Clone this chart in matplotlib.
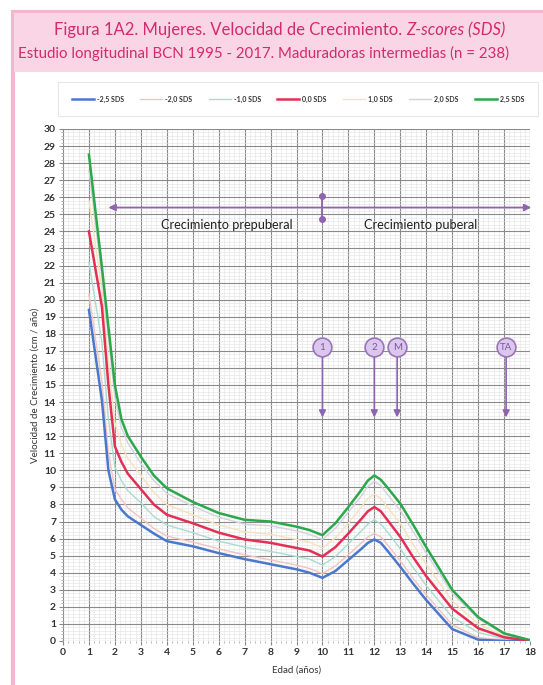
import matplotlib.pyplot as plt
from matplotlib.patches import Rectangle
from matplotlib.ticker import MultipleLocator

plt.rcParams['font.family'] = ['Lato', 'DejaVu Sans']

# edad (años) y velocidad (cm/año) por curva SDS
edad = [1, 1.5, 1.75, 2, 2.25, 2.5, 3, 3.5, 4, 5, 6, 7, 8, 9, 9.5, 10,
        10.5, 11, 11.5, 11.75, 12, 12.25, 12.5, 13, 13.5, 14, 15, 16, 17, 18]
sds_m25 = [19.4, 14.1, 10.0, 8.3, 7.7, 7.3, 6.8, 6.3, 5.85, 5.55, 5.15, 4.8, 4.5, 4.2, 4.0, 3.7,
           4.1, 4.75, 5.4, 5.75, 5.95, 5.75, 5.3, 4.35, 3.35, 2.4, 0.7, 0.08, 0.0, 0.0]
sds_m20 = [20.3, 15.2, 11.0, 8.9, 8.3, 7.8, 7.2, 6.6, 6.15, 5.8, 5.4, 5.05, 4.75, 4.45, 4.25, 3.95,
           4.4, 5.05, 5.75, 6.1, 6.3, 6.1, 5.65, 4.7, 3.65, 2.7, 0.95, 0.2, 0.05, 0.0]
sds_m10 = [22.2, 17.5, 13.0, 10.2, 9.4, 8.8, 8.1, 7.3, 6.8, 6.35, 5.85, 5.5, 5.25, 4.95, 4.8, 4.45,
           4.95, 5.7, 6.45, 6.85, 7.1, 6.85, 6.4, 5.4, 4.3, 3.25, 1.4, 0.5, 0.13, 0.0]
sds_0 = [24.0, 19.6, 15.0, 11.4, 10.5, 9.8, 8.9, 8.0, 7.4, 6.9, 6.35, 5.95, 5.75, 5.45, 5.3, 4.95,
         5.5, 6.3, 7.15, 7.6, 7.85, 7.6, 7.1, 6.1, 4.9, 3.8, 1.9, 0.75, 0.22, 0.0]
sds_p10 = [25.8, 20.6, 16.4, 12.8, 11.5, 10.7, 9.7, 8.7, 8.0, 7.4, 6.8, 6.4, 6.25, 5.95, 5.8, 5.45,
           6.05, 6.9, 7.85, 8.35, 8.6, 8.35, 7.85, 6.9, 5.65, 4.5, 2.35, 1.0, 0.3, 0.02]
sds_p20 = [27.6, 21.3, 17.8, 14.3, 12.5, 11.6, 10.4, 9.4, 8.65, 7.9, 7.25, 6.85, 6.75, 6.45, 6.25, 5.95,
           6.6, 7.55, 8.5, 9.05, 9.35, 9.1, 8.6, 7.65, 6.4, 5.15, 2.8, 1.3, 0.4, 0.04]
sds_p25 = [28.5, 21.9, 18.4, 15.0, 13.0, 12.0, 10.8, 9.7, 8.95, 8.15, 7.5, 7.1, 7.0, 6.7, 6.5, 6.2,
           6.9, 7.85, 8.85, 9.4, 9.7, 9.45, 9.0, 8.05, 6.8, 5.5, 3.0, 1.4, 0.45, 0.05]

etiquetas = ['-2,5 SDS', '-2,0 SDS', '-1,0 SDS', '0,0 SDS', '1,0 SDS', '2,0 SDS', '2,5 SDS']
series = [sds_m25, sds_m20, sds_m10, sds_0, sds_p10, sds_p20, sds_p25]
colores = ['#4a78cc', '#f2c4c0', '#a9dccf', '#e42f55', '#f8e2bc', '#d4d2de', '#2aa84a']
grosores = [1.8, 1.0, 1.0, 1.8, 1.0, 1.0, 1.8]

# hitos puberales
hitos_x = [10, 12, 12.88, 17.08]
hitos_txt = ['1', '2', 'M', 'TA']

purpura = '#8e63b0'
rosa = '#d42a6e'

fig = plt.figure(figsize=(5.43, 6.85), dpi=100)

# marco rosa y banda del titulo
fig.patches.append(Rectangle((13/543, -0.1), 1, 1.1 - 12/685, transform=fig.transFigure,
                             facecolor='white', edgecolor='#f3b6cf', linewidth=3, zorder=-2))
fig.patches.append(Rectangle((14/543, 1 - 72/685), 1, 59/685, transform=fig.transFigure,
                             facecolor='#fad5e5', edgecolor='none', zorder=-1))

ax = fig.add_axes([63/543, 1 - 641/685, 467/543, 512/685])
ax.patch.set_alpha(0)
for y, lab, c, w in zip(series, etiquetas, colores, grosores):
    ax.plot(edad, y, color=c, linewidth=w, label=lab, zorder=3 if w > 1.5 else 2,
            solid_joinstyle='round')

ax.set_xlim(0, 18)
ax.set_ylim(0, 30)
ax.xaxis.set_major_locator(MultipleLocator(1))
ax.yaxis.set_major_locator(MultipleLocator(1))
ax.xaxis.set_minor_locator(MultipleLocator(0.2))
ax.yaxis.set_minor_locator(MultipleLocator(0.2))
ax.grid(which='major', color='#8a8a8a', linewidth=0.8)
ax.grid(which='minor', color='#e2e2e2', linewidth=0.4)
ax.set_axisbelow(True)
for s in ax.spines.values():
    s.set_visible(False)
ax.tick_params(which='major', length=3, color='#888888', labelsize=7.5, labelcolor='#333333', pad=2)
ax.tick_params(which='minor', length=1.5, color='#aaaaaa')
for t in ax.get_xticklabels() + ax.get_yticklabels():
    t.set_fontweight('bold')
ax.set_xlabel('Edad (años)', fontsize=7, color='#333333', labelpad=6)
ax.set_ylabel('Velocidad de Crecimiento (cm / año)', fontsize=7, color='#333333', labelpad=3)

# flecha prepuberal / puberal
ax.annotate('', xy=(1.75, 25.4), xytext=(18.05, 25.4),
            arrowprops=dict(arrowstyle='<|-|>', color=purpura, lw=1.3, mutation_scale=10,
                            shrinkA=0, shrinkB=0))
ax.plot([10, 10], [24.7, 26.1], color=purpura, lw=1.3, zorder=4)
ax.plot([10, 10], [24.7, 26.1], 'o', color=purpura, markersize=4, zorder=4)
ax.text(6.3, 24.4, 'Crecimiento prepuberal', fontsize=9.2, ha='center', va='center', color='#222222')
ax.text(13.8, 24.4, 'Crecimiento puberal', fontsize=9.2, ha='center', va='center', color='#222222')

for hx, ht in zip(hitos_x, hitos_txt):
    ax.annotate('', xy=(hx, 13.1), xytext=(hx, 17.2),
                arrowprops=dict(arrowstyle='-|>', color=purpura, lw=1.2, mutation_scale=10,
                                shrinkA=0, shrinkB=0), zorder=4)
    ax.plot([hx], [17.2], 'o', markersize=13.5, markerfacecolor='#dbc7ec',
            markeredgecolor='#9a74bd', markeredgewidth=1.2, zorder=5)
    ax.text(hx, 17.2, ht, fontsize=7, ha='center', va='center', color='#7a56a0', zorder=6)

# leyenda
leg = fig.legend(loc='center', bbox_to_anchor=(298/543, 1 - 99/685), ncol=7, fontsize=5,
                 frameon=True, fancybox=False, edgecolor='#e0e0e0', handlelength=3.2,
                 columnspacing=2.35, handletextpad=0.4, borderpad=2.0, borderaxespad=0)
leg.get_frame().set_linewidth(0.8)
for t in leg.get_texts():
    t.set_fontweight('bold')
    t.set_color('#333333')

# titulo con parte en cursiva
r = fig.canvas.get_renderer()
t1 = fig.text(0, 1 - 30/685, 'Figura 1A2. Mujeres. Velocidad de Crecimiento. ', fontsize=12,
              color=rosa, va='center', ha='left')
t2 = fig.text(0, 1 - 30/685, 'Z-scores (SDS)', fontsize=12, color=rosa, va='center',
              ha='left', style='italic')
w1 = t1.get_window_extent(r).width
w2 = t2.get_window_extent(r).width
x0 = (280 - (w1 + w2) / 2) / 543
t1.set_x(x0)
t2.set_x(x0 + w1 / 543)
fig.text(263/543, 1 - 53/685, 'Estudio longitudinal BCN 1995 - 2017. Maduradoras intermedias (n = 238)',
         fontsize=10.8, color=rosa, ha='center', va='center')

fig.savefig('out.png', dpi=100)
